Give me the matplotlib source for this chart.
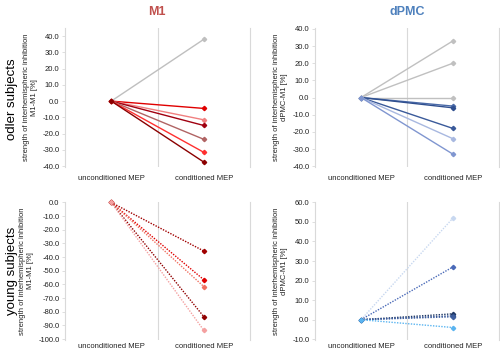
import numpy as np
import matplotlib.pyplot as plt

plt.rcParams['font.family'] = ['Liberation Sans', 'DejaVu Sans']

# --- data ---
conditions = ['unconditioned MEP', 'conditioned MEP']

old_m1 = [38.0, -4.5, -11.5, -15.0, -23.5, -31.5, -37.5]
old_m1_colors = ['#bfbfbf', '#e00000', '#f08080', '#a00010', '#b06464', '#ff3030', '#8b0000']

old_pmc = [33.0, 20.0, 0.0, -5.0, -6.0, -18.0, -24.0, -33.0]
old_pmc_colors = ['#c0c0c0', '#c0c0c0', '#c0c0c0', '#4a6aa8', '#2f4f8f', '#3a5a9a', '#a8b8e0', '#8096d0']

young_m1 = [-35.5, -56.5, -61.5, -83.5, -93.5]
young_m1_colors = ['#a00000', '#e00000', '#f07060', '#900000', '#f4a0a0']

young_pmc = [52.0, 27.0, 3.0, 2.0, 1.5, -4.0]
young_pmc_colors = ['#c8d8f0', '#4a6ab8', '#1f3864', '#2f4f8f', '#4060a0', '#5ab4f0']

grid_col = '#d9d9d9'


def draw_panel(ax, values, colors, ylim, yticks, ylabel, style, xpad):
    for v, c in zip(values, colors):
        ax.plot([0, 1], [0, v], color=c, lw=1.0, ls=style, marker='D',
                ms=2.2, mec=c, mfc=c, clip_on=False)
    ax.axvline(0.5, color=grid_col, lw=0.8, zorder=0)
    ax.set_xlim(-0.5, 1.5)
    ax.set_ylim(*ylim)
    ax.set_yticks(yticks)
    ax.set_yticklabels([f'{t:.1f}' for t in yticks])
    ax.set_xticks([0, 1])
    ax.set_xticklabels(conditions)
    ax.tick_params(axis='x', length=0, labelsize=5.5, pad=xpad, colors='#222222')
    ax.tick_params(axis='y', length=2, width=0.6, color=grid_col, labelsize=5.5,
                   pad=2, labelcolor='#222222')
    for s in ['top', 'bottom']:
        ax.spines[s].set_visible(False)
    for s in ['left', 'right']:
        ax.spines[s].set_color(grid_col)
        ax.spines[s].set_linewidth(0.8)
    ax.set_ylabel(ylabel, fontsize=5.5, color='#222222', labelpad=3, linespacing=1.3)


fig = plt.figure(figsize=(5.0, 3.54), dpi=100)
ax1 = fig.add_axes([0.13, 0.528, 0.37, 0.393])
ax2 = fig.add_axes([0.63, 0.528, 0.368, 0.393])
ax3 = fig.add_axes([0.13, 0.040, 0.37, 0.390])
ax4 = fig.add_axes([0.63, 0.040, 0.368, 0.390])

draw_panel(ax1, old_m1, old_m1_colors, (-40.6, 45), np.arange(-40, 41, 10),
           'strength of interhemispheric inhibition\nM1-M1 [%]', '-', 6)
draw_panel(ax2, old_pmc, old_pmc_colors, (-40.5, 40.5), np.arange(-40, 41, 10),
           'strength of interhemispheric inhibition\ndPMC-M1 [%]', '-', 6)
draw_panel(ax3, young_m1, young_m1_colors, (-100.5, 0.5), np.arange(-100, 1, 10),
           'strength of interhemispheric inhibition\nM1-M1 [%]', (0, (1, 1)), 2.5)
draw_panel(ax4, young_pmc, young_pmc_colors, (-10.3, 60.3), np.arange(-10, 61, 10),
           'strength of interhemispheric inhibition\ndPMC-M1 [%]', (0, (1, 1)), 2.5)

fig.text(0.314, 0.965, 'M1', ha='center', va='center', fontsize=9,
         fontweight='bold', color='#c0504d')
fig.text(0.814, 0.965, 'dPMC', ha='center', va='center', fontsize=9,
         fontweight='bold', color='#4f81bd')
fig.text(0.025, 0.72, 'odler subjects', ha='center', va='center', fontsize=9.5,
         rotation=90)
fig.text(0.025, 0.235, 'young subjects', ha='center', va='center', fontsize=9.5,
         rotation=90)

fig.savefig('out.png', dpi=100)
